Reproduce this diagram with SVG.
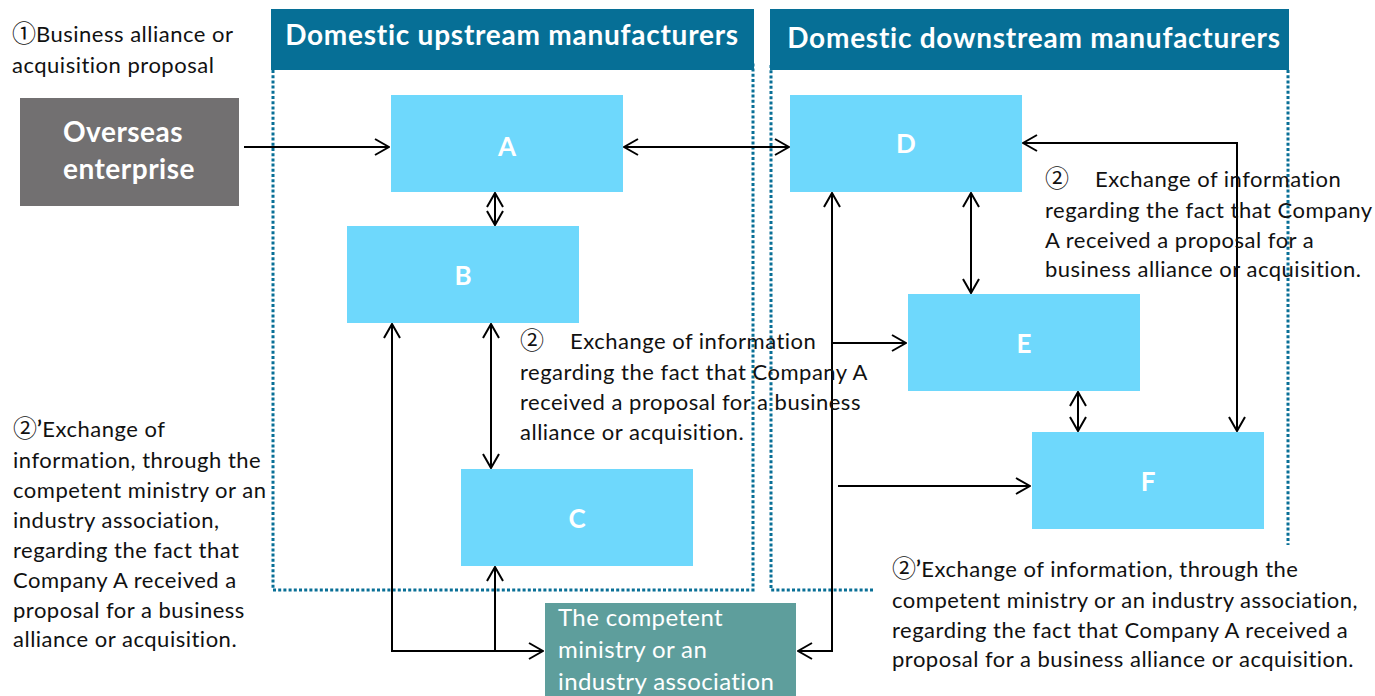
<svg xmlns="http://www.w3.org/2000/svg" width="1375" height="696" viewBox="0 0 1375 696">
<style>
.dot{fill:none;stroke:#086F96;stroke-width:3;stroke-dasharray:3 2.2}
.hdr{fill:#066F96}
.hdrt{font-family:Lato,"Liberation Sans","Noto Sans CJK JP",sans-serif;font-weight:bold;font-size:28px;letter-spacing:0.75px;fill:#fff}
.ovt{font-family:Lato,"Liberation Sans","Noto Sans CJK JP",sans-serif;font-weight:bold;font-size:28px;letter-spacing:0.5px;fill:#fff}
.node{fill:#6ED8FC}
.lt{font-family:Lato,"Liberation Sans","Noto Sans CJK JP",sans-serif;font-weight:bold;font-size:26px;fill:#fff;text-anchor:middle}
.txt{font-family:Lato,"Liberation Sans","Noto Sans CJK JP",sans-serif;font-size:22px;letter-spacing:0.5px;fill:#111}
.mt{font-family:Lato,"Liberation Sans","Noto Sans CJK JP",sans-serif;font-size:24px;letter-spacing:0.4px;fill:#fff}
.cj{font-family:"Noto Sans CJK JP",sans-serif;font-size:24px;letter-spacing:0}
.con{fill:none;stroke:#000;stroke-width:2}
</style>
<defs>
<marker id="ah" viewBox="0 0 16 18" refX="15" refY="9" markerWidth="16" markerHeight="18" markerUnits="userSpaceOnUse" orient="auto-start-reverse">
<path d="M1,1 L15,9 L1,17" fill="none" stroke="#000" stroke-width="2"/>
</marker>
</defs>
<rect width="1375" height="696" fill="#fff"/>
<g id="frames">
<path class="dot" d="M273,70 V590 H753 V62"/>
<path class="dot" d="M873,590 H771 V65"/>
<path class="dot" d="M1288,70 V545"/>
</g>
<g id="header-upstream">
<rect class="hdr" x="271" y="9" width="483" height="61"/>
<text class="hdrt" x="512" y="45" text-anchor="middle">Domestic upstream manufacturers</text>
</g>
<g id="header-downstream">
<rect class="hdr" x="770" y="9" width="519" height="61"/>
<text class="hdrt" x="1034" y="48" text-anchor="middle">Domestic downstream manufacturers</text>
</g>
<g id="connectors">
<path class="con" d="M244,147 H389" marker-end="url(#ah)"/>
<path class="con" d="M624,147 H789" marker-start="url(#ah)" marker-end="url(#ah)"/>
<path class="con" d="M495,193 V225" marker-start="url(#ah)" marker-end="url(#ah)"/>
<path class="con" d="M491,324 V468" marker-start="url(#ah)" marker-end="url(#ah)"/>
<path class="con" d="M392,324 V651 H543" marker-start="url(#ah)" marker-end="url(#ah)"/>
<path class="con" d="M495,651 V567" marker-end="url(#ah)"/>
<path class="con" d="M798,651 H832 V193" marker-start="url(#ah)" marker-end="url(#ah)"/>
<path class="con" d="M832,343 H906" marker-end="url(#ah)"/>
<path class="con" d="M838,486 H1030" marker-end="url(#ah)"/>
<path class="con" d="M971,193 V293" marker-start="url(#ah)" marker-end="url(#ah)"/>
<path class="con" d="M1078,392 V431" marker-start="url(#ah)" marker-end="url(#ah)"/>
<path class="con" d="M1023,143 H1237 V431" marker-start="url(#ah)" marker-end="url(#ah)"/>
</g>
<g id="overseas">
<rect x="20" y="98" width="219" height="108" fill="#727071"/>
<text class="ovt" x="63" y="142">Overseas</text>
<text class="ovt" x="63" y="179">enterprise</text>
</g>
<g id="nodeA"><rect class="node" x="391" y="95" width="232" height="97"/><text class="lt" x="507" y="156">A</text></g>
<g id="nodeB"><rect class="node" x="347" y="226" width="232" height="97"/><text class="lt" x="463" y="285">B</text></g>
<g id="nodeC"><rect class="node" x="461" y="469" width="232" height="97"/><text class="lt" x="577" y="528">C</text></g>
<g id="nodeD"><rect class="node" x="790" y="95" width="232" height="97"/><text class="lt" x="906" y="153">D</text></g>
<g id="nodeE"><rect class="node" x="908" y="294" width="232" height="97"/><text class="lt" x="1024" y="353">E</text></g>
<g id="nodeF"><rect class="node" x="1032" y="432" width="232" height="97"/><text class="lt" x="1148" y="491">F</text></g>
<g id="ministry">
<rect x="545" y="603" width="251" height="93" fill="#5E9E9C"/>
<text class="mt" x="558" y="626">The competent</text>
<text class="mt" x="558" y="658">ministry or an</text>
<text class="mt" x="558" y="690">industry association</text>
</g>
<g id="labels">
<text class="txt" x="12" y="42"><tspan class="cj">①</tspan>Business alliance or</text>
<text class="txt" x="12" y="73">acquisition proposal</text>
<text class="txt" x="520" y="349"><tspan class="cj">②</tspan><tspan x="570">Exchange of information</tspan></text>
<text class="txt" x="520" y="380">regarding the fact that Company A</text>
<text class="txt" x="520" y="410">received a proposal for a business</text>
<text class="txt" x="520" y="440">alliance or acquisition.</text>
<text class="txt" x="1045" y="187"><tspan class="cj">②</tspan><tspan x="1095">Exchange of information</tspan></text>
<text class="txt" x="1045" y="218">regarding the fact that Company</text>
<text class="txt" x="1045" y="248">A received a proposal for a</text>
<text class="txt" x="1045" y="277">business alliance or acquisition.</text>
<text class="txt" x="13" y="437"><tspan class="cj">②</tspan><tspan font-weight="bold">’</tspan>Exchange of</text>
<text class="txt" x="13" y="468">information, through the</text>
<text class="txt" x="13" y="498">competent ministry or an</text>
<text class="txt" x="13" y="528">industry association,</text>
<text class="txt" x="13" y="558">regarding the fact that</text>
<text class="txt" x="13" y="588">Company A received a</text>
<text class="txt" x="13" y="618">proposal for a business</text>
<text class="txt" x="13" y="647">alliance or acquisition.</text>
<text class="txt" x="892" y="577"><tspan class="cj">②</tspan><tspan font-weight="bold">’</tspan>Exchange of information, through the</text>
<text class="txt" x="892" y="608">competent ministry or an industry association,</text>
<text class="txt" x="892" y="638">regarding the fact that Company A received a</text>
<text class="txt" x="892" y="667">proposal for a business alliance or acquisition.</text>
</g>
</svg>
